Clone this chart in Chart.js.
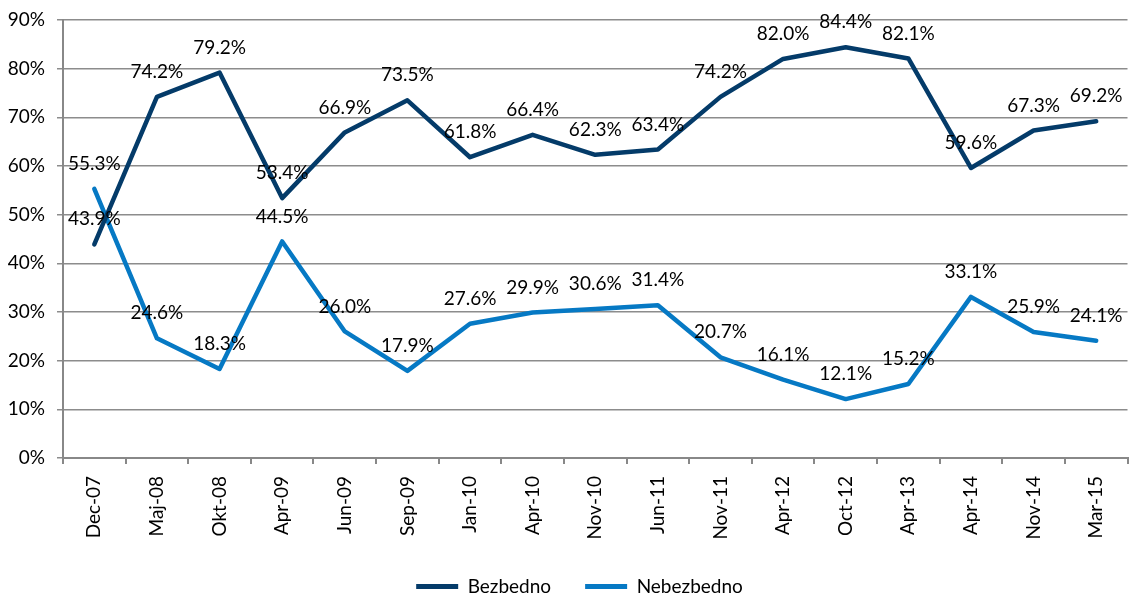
<!DOCTYPE html>
<html>
<head>
<meta charset="utf-8">
<script src="https://cdn.jsdelivr.net/npm/chart.js@4/dist/chart.umd.min.js"></script>
<style>
  html, body { margin: 0; padding: 0; background: #fff; }
  #wrap { width: 1131px; height: 596px; }
</style>
</head>
<body>
<div id="wrap"><canvas id="c"></canvas></div>
<script>
const categories = ["Dec-07","Maj-08","Okt-08","Apr-09","Jun-09","Sep-09","Jan-10","Apr-10","Nov-10","Jun-11","Nov-11","Apr-12","Oct-12","Apr-13","Apr-14","Nov-14","Mar-15"];
const bezbedno = [43.9,74.2,79.2,53.4,66.9,73.5,61.8,66.4,62.3,63.4,74.2,82.0,84.4,82.1,59.6,67.3,69.2];
const nebezbedno = [55.3,24.6,18.3,44.5,26.0,17.9,27.6,29.9,30.6,31.4,20.7,16.1,12.1,15.2,33.1,25.9,24.1];
const yTicks = [0,10,20,30,40,50,60,70,80,90];

const FONT = "Lato, 'Open Sans', sans-serif";
const FS = 19;
const DARK = '#043B69';
const LIGHT = '#0679C4';

const labelPlugin = {
  id: 'valueLabels',
  afterLayout(chart) {
    if (chart.legend) { chart.legend.left += 14; chart.legend.right += 14; }
  },
  afterDatasetsDraw(chart) {
    const ctx = chart.ctx;
    ctx.save();
    ctx.font = FS + "px " + FONT;
    ctx.fillStyle = '#000';
    ctx.textAlign = 'center';
    ctx.textBaseline = 'middle';
    chart.data.datasets.forEach((ds, i) => {
      const meta = chart.getDatasetMeta(i);
      meta.data.forEach((pt, j) => {
        ctx.fillText(ds.data[j].toFixed(1) + '%', pt.x, pt.y - 25);
      });
    });
    ctx.restore();
  }
};

new Chart(document.getElementById('c'), {
  type: 'line',
  data: {
    labels: categories,
    datasets: [
      { label: 'Bezbedno', data: bezbedno, borderColor: DARK, backgroundColor: DARK, borderWidth: 4.5, pointRadius: 0, tension: 0, borderCapStyle: 'round', borderJoinStyle: 'round' },
      { label: 'Nebezbedno', data: nebezbedno, borderColor: LIGHT, backgroundColor: LIGHT, borderWidth: 4.5, pointRadius: 0, tension: 0, borderCapStyle: 'round', borderJoinStyle: 'round' }
    ]
  },
  options: {
    responsive: true,
    maintainAspectRatio: false,
    animation: false,
    layout: { padding: { top: 20, right: 0, left: 0, bottom: -10 } },
    plugins: {
      legend: {
        position: 'bottom',
        labels: {
          font: { family: FONT, size: FS },
          color: '#000',
          boxWidth: 42,
          boxHeight: 5,
          padding: 34,
          generateLabels(chart) {
            return chart.data.datasets.map((ds, i) => ({
              text: ds.label, fillStyle: ds.borderColor, strokeStyle: ds.borderColor,
              lineWidth: 0, hidden: false, datasetIndex: i, fontColor: '#000'
            }));
          }
        }
      },
      tooltip: { enabled: false }
    },
    scales: {
      x: {
        offset: true,
        afterFit(scale) { scale.height = 85; },
        grid: { display: true, drawOnChartArea: false, offset: true, color: '#888', tickLength: 6, lineWidth: 2 },
        border: { color: '#888', width: 2 },
        ticks: { font: { family: FONT, size: FS }, color: '#000', minRotation: 90, maxRotation: 90, autoSkip: false, padding: 12 }
      },
      y: {
        min: 0, max: 90,
        afterFit(scale) { scale.width = 63; scale.paddingTop = 0; scale.paddingBottom = 0; },
        afterBuildTicks(axis) { axis.ticks = yTicks.map(v => ({ value: v })); },
        grid: { color: '#8c8c8c', lineWidth: 1.5, tickLength: 6 },
        border: { color: '#888', width: 2 },
        ticks: { font: { family: FONT, size: FS }, color: '#000', padding: 12, callback: v => v + '%' }
      }
    }
  },
  plugins: [labelPlugin]
});
</script>
</body>
</html>
